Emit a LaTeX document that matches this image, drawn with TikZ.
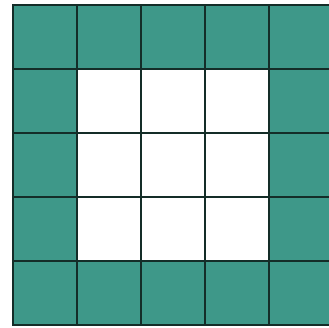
\documentclass[tikz,border=0pt]{standalone}
\definecolor{tealcell}{RGB}{62,152,137}
\definecolor{gridline}{RGB}{20,45,40}
\begin{document}
\begin{tikzpicture}[x=1pt,y=-1pt,
  cell/.style={draw=gridline,line width=2pt},
  border/.style={cell,fill=tealcell},
  inner/.style={cell,fill=white}]
\useasboundingbox (0,0) rectangle (329,328);
\fill[white] (0,0) rectangle (329,328);
\foreach \i in {0,...,4}{
  \foreach \j in {0,...,4}{
    \pgfmathsetmacro{\xa}{13+64*\i}
    \pgfmathsetmacro{\ya}{5+64*\j}
    \ifnum\i=0 \def\st{border}\else\ifnum\i=4 \def\st{border}\else\ifnum\j=0 \def\st{border}\else\ifnum\j=4 \def\st{border}\else\def\st{inner}\fi\fi\fi\fi
    \draw[\st] (\xa,\ya) rectangle ++(64,64);
  }
}
\end{tikzpicture}
\end{document}
